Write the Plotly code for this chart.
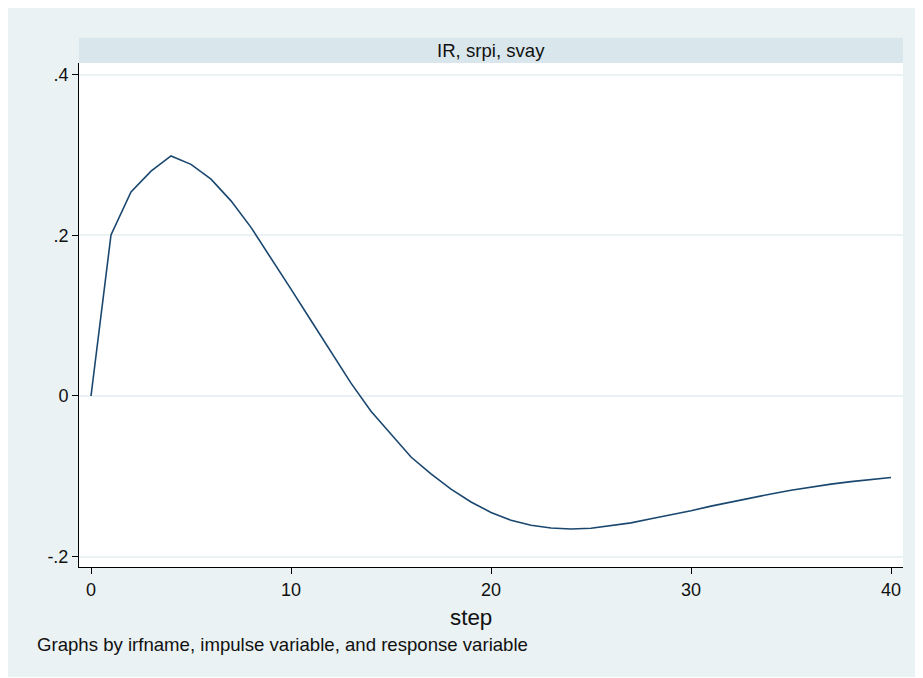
import plotly.graph_objects as go

# ---- data ----
steps = list(range(41))
irf = [0.0, 0.2005, 0.254, 0.280, 0.299, 0.2885, 0.270, 0.243, 0.210, 0.172,
       0.133, 0.094, 0.055, 0.016, -0.019, -0.048, -0.076, -0.097, -0.116, -0.132,
       -0.145, -0.1547, -0.161, -0.1645, -0.1656, -0.1648, -0.1618, -0.158, -0.1528, -0.148,
       -0.143, -0.1372, -0.132, -0.1268, -0.122, -0.1175, -0.1135, -0.1098, -0.1067, -0.1038,
       -0.1015]
x_tickvals = [0, 10, 20, 30, 40]
x_ticktext = ["0", "10", "20", "30", "40"]
y_tickvals = [-0.2, 0.0, 0.2, 0.4]
y_ticktext = ["-.2", "0", ".2", ".4"]
panel_title = "IR, srpi, svay"
x_title = "step"
note_text = "Graphs by irfname, impulse variable, and response variable"

# ---- styling ----
OFF = 8  # page body margin in which the figure sits
W, H = 923 - OFF, 678 - OFF
# plot area in page pixels: x 79..903, y 63..567
L, R, T, B = 79 - OFF, 923 - 903, 63 - OFF, 678 - 567
PW, PH = W - L - R, H - T - B
FONT = "Liberation Sans, Arial, sans-serif"
BG = "#eaf2f3"
STRIP = "#d9e6eb"
GRID = "#eaf2f3"
LINE = "#1a476f"
TXT = "#111111"

def px_x(px):  # page px -> paper
    return (px - OFF - L) / PW

def px_y(py):
    return (H - B - (py - OFF)) / PH

fig = go.Figure()
fig.add_trace(go.Scatter(x=steps, y=irf, mode="lines",
                         line=dict(color=LINE, width=1.6), showlegend=False,
                         hoverinfo="x+y"))

shapes = [
    dict(type="rect", xref="paper", yref="paper", layer="below",
         x0=px_x(OFF), x1=px_x(923), y0=px_y(677), y1=px_y(OFF),
         fillcolor=BG, line=dict(width=0)),
    dict(type="rect", xref="paper", yref="paper", layer="below",
         x0=0, x1=1, y0=0, y1=1, fillcolor="white", line=dict(width=0)),
    dict(type="rect", xref="paper", yref="paper", layer="below",
         x0=0, x1=1, y0=1, y1=px_y(37.7), fillcolor=STRIP, line=dict(width=0)),
]

annotations = [
    dict(text=panel_title, xref="paper", yref="paper", x=0.5, y=(1 + px_y(37.7)) / 2,
         xanchor="center", yanchor="middle", showarrow=False,
         font=dict(family=FONT, size=18.6, color=TXT)),
    dict(text=x_title, xref="paper", yref="paper", x=px_x(471), y=px_y(617),
         xanchor="center", yanchor="middle", showarrow=False,
         font=dict(family=FONT, size=22.4, color=TXT)),
    dict(text=note_text, xref="paper", yref="paper", x=px_x(35), y=px_y(644),
         xanchor="left", yanchor="middle", showarrow=False,
         font=dict(family=FONT, size=18.6, color=TXT)),
]

fig.update_layout(
    width=W, height=H,
    margin=dict(l=L, r=R, t=T, b=B, pad=0),
    paper_bgcolor="white", plot_bgcolor="white",
    shapes=shapes, annotations=annotations,
    font=dict(family=FONT, size=18, color=TXT),
    showlegend=False,
)
fig.update_xaxes(range=[-0.6, 40.6], tickvals=x_tickvals, ticktext=x_ticktext,
                 showgrid=False, zeroline=False, showline=True, linecolor="#000000",
                 linewidth=1, ticks="outside", ticklen=6, tickcolor="#000000",
                 tickwidth=1, tickfont=dict(family=FONT, size=18, color=TXT))
fig.update_yaxes(range=[-0.213, 0.4147], tickvals=y_tickvals, ticktext=y_ticktext,
                 showgrid=True, gridcolor=GRID, gridwidth=1.5, zeroline=False,
                 showline=True, linecolor="#000000", linewidth=1, ticks="outside",
                 ticklen=6, tickcolor="#000000", tickwidth=1,
                 tickfont=dict(family=FONT, size=18, color=TXT))

fig.write_html("out.html")
